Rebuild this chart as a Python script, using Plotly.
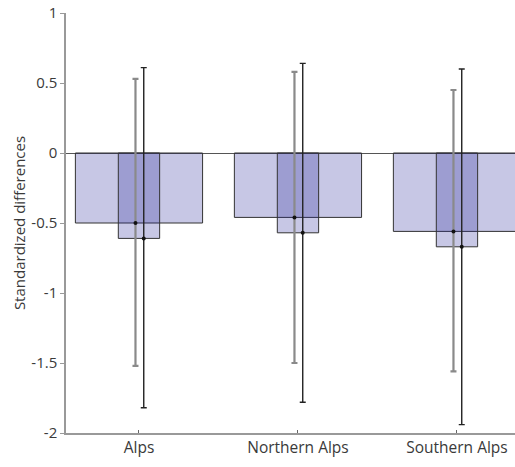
import plotly.graph_objects as go

categories = ["Alps", "Northern Alps", "Southern Alps"]
mean_a = [-0.50, -0.46, -0.56]
upper_a = [0.53, 0.58, 0.45]
lower_a = [-1.52, -1.50, -1.56]
mean_b = [-0.61, -0.57, -0.67]
upper_b = [0.61, 0.64, 0.60]
lower_b = [-1.82, -1.78, -1.94]
y_tick_vals = [1, 0.5, 0, -0.5, -1, -1.5, -2]
y_tick_text = ["1", "0.5", "0", "-0.5", "-1", "-1.5", "-2"]

xpos = list(range(len(categories)))
fill = "rgba(30,30,150,0.25)"

fig = go.Figure()
fig.add_trace(go.Bar(x=xpos, y=mean_a, width=0.8, marker=dict(color=fill, line=dict(color="#333", width=1)), showlegend=False))
fig.add_trace(go.Bar(x=xpos, y=mean_b, width=0.26, marker=dict(color=fill, line=dict(color="#333", width=1)), showlegend=False))

def err(mean, up, lo, off, color, thick):
    return go.Scatter(
        x=[p + off for p in xpos], y=mean, mode="markers",
        marker=dict(color="#111", size=4),
        error_y=dict(type="data", symmetric=False,
                     array=[u - m for u, m in zip(up, mean)],
                     arrayminus=[m - l for m, l in zip(mean, lo)],
                     color=color, thickness=thick, width=3),
        showlegend=False)

fig.add_trace(err(mean_a, upper_a, lower_a, -0.022, "#8a8a8a", 2.2))
fig.add_trace(err(mean_b, upper_b, lower_b, 0.03, "#222", 1.4))

fig.update_layout(
    width=515, height=467, barmode="overlay",
    margin=dict(l=66, r=0, t=13, b=34, autoexpand=False),
    plot_bgcolor="white", paper_bgcolor="white",
    font=dict(family="Open Sans", size=15, color="#3a3a3a"),
)
fig.update_xaxes(range=[-0.459, 2.365], tickvals=xpos, ticktext=categories,
                 tickfont=dict(size=15.5),
                 showline=True, linecolor="#999", linewidth=1.5, ticks="inside",
                 ticklen=3, tickcolor="#666", showgrid=False, zeroline=False,
                 ticklabeloverflow="allow")
fig.update_yaxes(range=[-2, 1], tickvals=y_tick_vals, ticktext=y_tick_text,
                 tickfont=dict(size=15),
                 showline=True, linecolor="#999", linewidth=1.5, ticks="outside",
                 ticklen=4, tickcolor="#999", showgrid=False,
                 zeroline=True, zerolinecolor="#555", zerolinewidth=1,
                 ticklabeloverflow="allow",
                 title=dict(text="Standardized differences", font=dict(size=15), standoff=2))

fig.write_html("out.html", config={"displayModeBar": False},
               post_script="document.body.style.margin='0';document.body.style.overflow='hidden';")
